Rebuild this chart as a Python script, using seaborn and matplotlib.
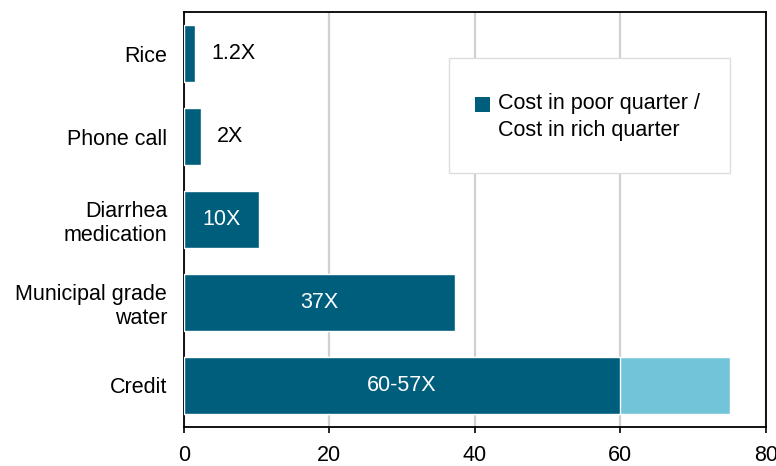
import matplotlib
matplotlib.use("Agg")
import matplotlib.pyplot as plt
import seaborn as sns
import pandas as pd
from matplotlib.patches import Patch, Rectangle
from matplotlib.legend_handler import HandlerPatch

categories = ["Rice", "Phone call", "Diarrhea\nmedication", "Municipal grade\nwater", "Credit"]
ratio_low = [1.5, 2.3, 10.3, 37.2, 60]
ratio_high = [0, 0, 0, 0, 75]
labels = ["1.2X", "2X", "10X", "37X", "60-57X"]
label_inside = [False, False, True, True, True]
xticks = [0, 20, 40, 60, 80]
legend_label = "Cost in poor quarter /\nCost in rich quarter"

dark = "#005E7D"
light = "#72C5D8"

sns.set_theme(style="white")
plt.rcParams["font.family"] = ["Liberation Sans", "DejaVu Sans"]
plt.rcParams["font.size"] = 15.5
plt.rcParams["text.color"] = "black"
plt.rcParams["xtick.color"] = "black"
plt.rcParams["ytick.color"] = "black"

df = pd.DataFrame({"cat": categories, "low": ratio_low, "high": ratio_high})

fig = plt.figure(figsize=(7.76, 4.66), dpi=100)
ax = fig.add_axes([0.237, 0.084, 0.750, 0.890])

sns.barplot(data=df, y="cat", x="high", color=light, saturation=1, width=0.68,
            orient="h", ax=ax, zorder=3)
sns.barplot(data=df, y="cat", x="low", color=dark, saturation=1, width=0.68,
            orient="h", ax=ax, zorder=3)

for i, (v, lab, inside) in enumerate(zip(ratio_low, labels, label_inside)):
    if inside:
        ax.text(v / 2, i, lab, ha="center", va="center", color="white",
                fontsize=15.5, zorder=5)
    else:
        ax.annotate(lab, xy=(v, i), xytext=(12, 0), textcoords="offset points",
                    ha="left", va="center", color="black", fontsize=15.5, zorder=5)

ax.set_xlim(0, 80)
ax.set_ylim(4.5, -0.5)
ax.set_xticks(xticks)
ax.set_xticklabels([str(t) for t in xticks], fontsize=15.5)
ax.set_xlabel("")
ax.set_ylabel("")
ax.tick_params(axis="y", length=0, pad=12, labelsize=15.5, labelcolor="black")
ax.tick_params(axis="x", length=4, width=1.2, pad=9, bottom=True, color="black",
               labelsize=15.5, labelcolor="black")
for lbl in ax.get_yticklabels():
    lbl.set_multialignment("right")

ax.grid(axis="x", color="#D0D0D0", linewidth=1.6, zorder=0)
ax.set_axisbelow(True)
for s in ax.spines.values():
    s.set_visible(True)
    s.set_color("black")
    s.set_linewidth(1.3)

# legend box
box = Rectangle((0.455, 0.612), 0.483, 0.277, transform=ax.transAxes,
                facecolor="white", edgecolor="#DDDDDD", linewidth=1.0, zorder=4)
ax.add_patch(box)


def top_square(legend, orig_handle, xdescent, ydescent, width, height, fontsize):
    return Rectangle((-xdescent, -ydescent + 0.6 * fontsize), width, height)


handle = Patch(facecolor=dark, edgecolor="none")
leg = ax.legend([handle], [legend_label], loc="upper left",
                bbox_to_anchor=(0.500, 0.806), frameon=False, fontsize=15.5,
                handlelength=0.7, handleheight=0.7, handletextpad=0.35,
                borderpad=0, borderaxespad=0, labelcolor="black",
                handler_map={Patch: HandlerPatch(patch_func=top_square)})
for t in leg.get_texts():
    t.set_linespacing(1.38)
leg.set_zorder(6)

fig.savefig("out.png", dpi=100)
